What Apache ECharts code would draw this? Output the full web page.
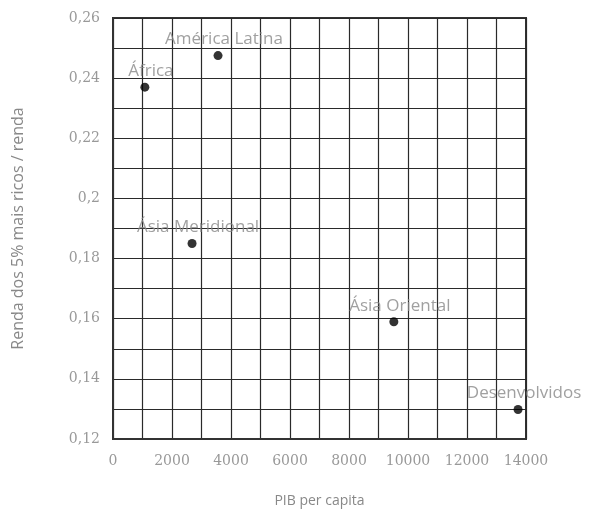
<!DOCTYPE html>
<html>
<head>
<meta charset="utf-8">
<script src="https://cdn.jsdelivr.net/npm/echarts@6/dist/echarts.min.js"></script>
<style>html,body{margin:0;padding:0;background:#fff}#c{width:590px;height:513px}</style>
</head>
<body>
<div id="c"></div>
<script>
const regions = ['África', 'América Latina', 'Ásia Meridional', 'Ásia Oriental', 'Desenvolvidos'];
const pibPerCapita = [1080, 3560, 2680, 9520, 13730];
const rendaRicos = [0.237, 0.2475, 0.185, 0.159, 0.1298];

const chart = echarts.init(document.getElementById('c'));
const numFont = '"DejaVu Serif", "Liberation Serif", serif';
const txtFont = '"Open Sans", "DejaVu Sans", sans-serif';
const lineStyle = { color: '#2a2a2a', width: 1.2 };
chart.setOption({
  animation: false,
  grid: { left: 113, right: 64, top: 18, bottom: 68, show: true, borderColor: '#333', borderWidth: 2, backgroundColor: 'transparent' },
  xAxis: {
    type: 'value', min: 0, max: 14000, interval: 2000,
    name: 'PIB per capita', nameLocation: 'middle', nameGap: 55,
    nameTextStyle: { color: '#888', fontSize: 14, fontFamily: txtFont },
    axisLine: { show: true, lineStyle: { color: '#333', width: 2 } },
    axisTick: { show: false },
    axisLabel: { color: '#999', fontSize: 14, fontFamily: numFont, margin: 15,
      formatter: v => String(v) },
    splitLine: { show: true, lineStyle: lineStyle },
    minorTick: { show: false, splitNumber: 2 },
    minorSplitLine: { show: true, lineStyle: lineStyle }
  },
  yAxis: {
    type: 'value', min: 0.12, max: 0.26, interval: 0.02,
    name: 'Renda dos 5% mais ricos / renda', nameLocation: 'middle', nameGap: 87,
    nameTextStyle: { color: '#888', fontSize: 16, fontFamily: txtFont },
    axisLine: { show: true, lineStyle: { color: '#333', width: 2 } },
    axisTick: { show: false },
    axisLabel: { color: '#999', fontSize: 14, fontFamily: numFont, margin: 13,
      formatter: v => String(+v.toFixed(2)).replace('.', ',') },
    splitLine: { show: true, lineStyle: lineStyle },
    minorTick: { show: false, splitNumber: 2 },
    minorSplitLine: { show: true, lineStyle: lineStyle }
  },
  series: [{
    type: 'scatter',
    symbolSize: 9,
    itemStyle: { color: '#000' },
    data: regions.map((r, i) => ({ name: r, value: [pibPerCapita[i], rendaRicos[i]] })),
    label: {
      show: true, position: 'top', distance: 3, offset: [6, 0],
      formatter: p => p.name,
      color: '#888', fontSize: 17, fontFamily: txtFont
    }
  }]
});
</script>
</body>
</html>
